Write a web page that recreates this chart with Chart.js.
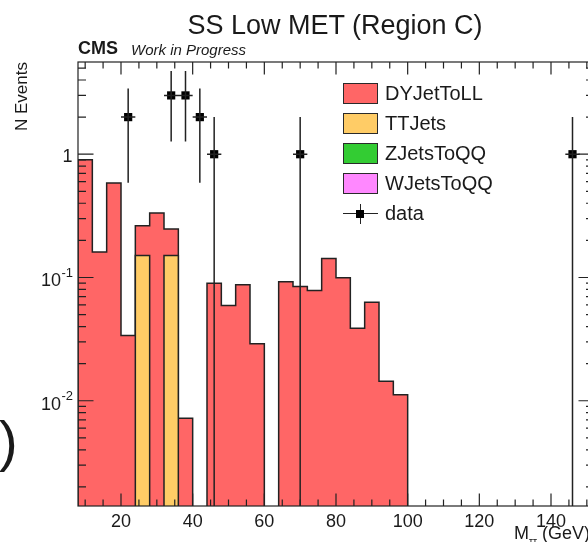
<!DOCTYPE html>
<html>
<head>
<meta charset="utf-8">
<script src="https://cdn.jsdelivr.net/npm/chart.js@4.4.1/dist/chart.umd.min.js"></script>
<style>
  html, body { margin:0; padding:0; background:#fff; }
  #wrap { position:relative; width:588px; height:542px; overflow:hidden; background:#fff; font-family:"Liberation Sans", Arial, sans-serif; color:#1a1a1a; }
  #c { position:absolute; left:0; top:0; }
  .t { position:absolute; white-space:nowrap; line-height:1; }
  .box { position:absolute; width:35px; height:21px; box-sizing:border-box; border:1.5px solid #2a2a2a; }
</style>
</head>
<body>
<div id="wrap">
  <canvas id="c" width="620" height="542"></canvas>
  <div class="t" style="left:335px; top:12px; font-size:27px; transform:translateX(-50%);">SS Low MET (Region C)</div>
  <div class="t" style="left:78px; top:39px; font-size:18px; font-weight:bold;">CMS</div>
  <div class="t" style="left:131px; top:41.5px; font-size:15px; font-style:italic;">Work in Progress</div>
  <div class="t" style="left:12.5px; top:262px; width:200px; text-align:right; font-size:17px; transform:rotate(-90deg); transform-origin:top left;">N Events</div>
  <div class="t" style="left:514px; top:524px; font-size:18px;">M<span style="font-size:10px; position:relative; top:6px;">ττ</span> (GeV)</div>
  <div class="t" style="left:-1px; top:412.5px; font-size:56px;">)</div>
  <div id="legend"></div>
</div>
<script>
// ---- data ----
const binEdges = [8,12,16,20,24,28,32,36,40,44,48,52,56,60,64,68,72,76,80,84,88,92,96,100,104,108,112,116,120,124,128,132,136,140,144,148,152];
const dyValues = [0.90,0.161,0.584,0.0338,0.112,0.333,0.096,0.00722,0,0.090,0.0593,0.0873,0.029,0,0.0923,0.0845,0.0785,0.1427,0.0995,0.0388,0.063,0.0144,0.0112,0,0,0,0,0,0,0,0,0,0,0,0,0];
const ttValues = [0,0,0,0,0.151,0,0.151,0,0,0,0,0,0,0,0,0,0,0,0,0,0,0,0,0,0,0,0,0,0,0,0,0,0,0,0,0];
const zValues  = [0,0,0,0,0,0,0,0,0,0,0,0,0,0,0,0,0,0,0,0,0,0,0,0,0,0,0,0,0,0,0,0,0,0,0,0];
const wValues  = [0,0,0,0,0,0,0,0,0,0,0,0,0,0,0,0,0,0,0,0,0,0,0,0,0,0,0,0,0,0,0,0,0,0,0,0];
const dataCenters = [22,34,38,42,46,70,146];
const dataCounts  = [2,3,3,2,1,1,1];
const dataHalfWidth = 2;
const xTickLabels = [20,40,60,80,100,120,140];
const yDecades = [0.01,0.1,1];
const yDecadeExp = ['-2','-1',''];
const legendNames = ['DYJetToLL','TTJets','ZJetsToQQ','WJetsToQQ','data'];
const legendColors = ['#ff6666','#ffcc66','#33cc33','#ff88ff',null];
const xRange = [8,152];
const yRange = [0.0014,5.6];

// ---- build ----
const LOW = 1e-5;
const totalValues = dyValues.map((v,i)=>v+ttValues[i]+zValues[i]+wValues[i]);
const wzttValues = ttValues.map((v,i)=>v+zValues[i]+wValues[i]);
function stepPoints(vals){
  const pts=[{x:binEdges[0],y:LOW}];
  vals.forEach((v,i)=>pts.push({x:binEdges[i],y:v>0?v:LOW}));
  pts.push({x:binEdges[binEdges.length-1],y:LOW});
  return pts;
}
const vErr=[], hErr=[], marks=[];
dataCenters.forEach((c,i)=>{
  const n=dataCounts[i], e=Math.sqrt(n);
  vErr.push({x:c,y:Math.max(n-e,LOW)},{x:c,y:n+e},{x:c,y:null});
  hErr.push({x:c-dataHalfWidth,y:n},{x:c+dataHalfWidth,y:n},{x:c,y:null});
  marks.push({x:c,y:n});
});

const lineCol='#222';
const frameTicks={
  id:'frameTicks',
  afterDatasetsDraw(chart){
    const {ctx,chartArea:a,scales:{x,y}}=chart;
    ctx.save();
    ctx.strokeStyle=lineCol; ctx.lineWidth=1.2;
    ctx.beginPath();
    for(let v=10; v<=150; v+=5){
      const px=x.getPixelForValue(v);
      const L = (v%20===0)?12.5:6.5;
      ctx.moveTo(px,a.bottom); ctx.lineTo(px,a.bottom-L);
      ctx.moveTo(px,a.top); ctx.lineTo(px,a.top+L);
    }
    for(const d of [0.001,0.01,0.1,1]){
      for(let k=1;k<=9;k++){
        const v=k*d;
        if(v<yRange[0]||v>yRange[1]) continue;
        const py=y.getPixelForValue(v);
        const L=(k===1)?15.5:8;
        ctx.moveTo(a.left,py); ctx.lineTo(a.left+L,py);
        ctx.moveTo(a.right,py); ctx.lineTo(a.right-L,py);
      }
    }
    ctx.stroke();
    ctx.strokeRect(a.left,a.top,a.right-a.left,a.bottom-a.top);
    ctx.fillStyle='#1a1a1a';
    yDecades.forEach((d,i)=>{
      const py=y.getPixelForValue(d);
      if(yDecadeExp[i]===''){
        ctx.font='18px "Liberation Sans", Arial, sans-serif';
        ctx.textAlign='right'; ctx.textBaseline='alphabetic';
        ctx.fillText('1',72.5,py+7.8);
      } else {
        ctx.font='18px "Liberation Sans", Arial, sans-serif';
        ctx.textAlign='right'; ctx.textBaseline='alphabetic';
        ctx.fillText('10',61,py+8.8);
        ctx.font='13px "Liberation Sans", Arial, sans-serif';
        ctx.textAlign='left';
        ctx.fillText(yDecadeExp[i],61.5,py-0.5);
      }
    });
    ctx.restore();
  }
};

const chart=new Chart(document.getElementById('c'),{
  type:'line',
  data:{datasets:[
    {label:'dataV',data:vErr,borderColor:lineCol,borderWidth:1.5,pointRadius:0,spanGaps:false,fill:false,order:0},
    {label:'dataH',data:hErr,borderColor:lineCol,borderWidth:1.5,pointRadius:0,spanGaps:false,fill:false,order:0},
    {label:'data',data:marks,showLine:false,pointStyle:'rect',pointRadius:5.8,pointBackgroundColor:'#000',pointBorderColor:'#000',pointBorderWidth:0,order:0},
    {label:'TTJets',data:stepPoints(wzttValues),stepped:true,borderColor:lineCol,borderWidth:1.5,backgroundColor:legendColors[1],fill:'start',pointRadius:0,order:1},
    {label:'DYJetToLL',data:stepPoints(totalValues),stepped:true,borderColor:lineCol,borderWidth:1.5,backgroundColor:legendColors[0],fill:'start',pointRadius:0,order:2}
  ]},
  options:{
    responsive:false, animation:false, events:[],
    layout:{padding:{left:0,right:26,top:62,bottom:0}},
    plugins:{legend:{display:false},tooltip:{enabled:false},title:{display:false}},
    scales:{
      x:{type:'linear',min:xRange[0],max:xRange[1],
         grid:{display:false,drawTicks:false},border:{display:false},
         afterBuildTicks:s=>{s.ticks=xTickLabels.map(v=>({value:v}));},
         afterFit:s=>{s.height=36;},
         ticks:{padding:5,maxRotation:0,autoSkip:false,color:'#1a1a1a',font:{family:'"Liberation Sans", Arial, sans-serif',size:18},callback:v=>String(v)}},
      y:{type:'logarithmic',min:yRange[0],max:yRange[1],
         grid:{display:false,drawTicks:false},border:{display:false},
         afterBuildTicks:s=>{s.ticks=yDecades.map(v=>({value:v}));},
         afterFit:s=>{s.width=78;},
         ticks:{display:false}}
    }
  },
  plugins:[frameTicks]
});

const lg=document.getElementById('legend');
legendNames.forEach((n,i)=>{
  const cy=93.5+30*i;
  if(legendColors[i]){
    const b=document.createElement('div'); b.className='box';
    b.style.left='343px'; b.style.top=(cy-10.5)+'px'; b.style.background=legendColors[i];
    lg.appendChild(b);
  } else {
    const h=document.createElement('div'); h.style.cssText=`position:absolute;left:343px;top:${cy-0.75}px;width:35px;height:1.5px;background:${lineCol}`;
    const v=document.createElement('div'); v.style.cssText=`position:absolute;left:359.5px;top:${cy-10}px;width:1.5px;height:20px;background:${lineCol}`;
    const m=document.createElement('div'); m.style.cssText=`position:absolute;left:356.2px;top:${cy-4}px;width:8px;height:8px;background:#000`;
    lg.appendChild(h); lg.appendChild(v); lg.appendChild(m);
  }
  const t=document.createElement('div'); t.className='t';
  t.style.left='385px'; t.style.top=(cy-10.8)+'px'; t.style.fontSize='20px';
  t.textContent=n; lg.appendChild(t);
});
</script>
</body>
</html>
